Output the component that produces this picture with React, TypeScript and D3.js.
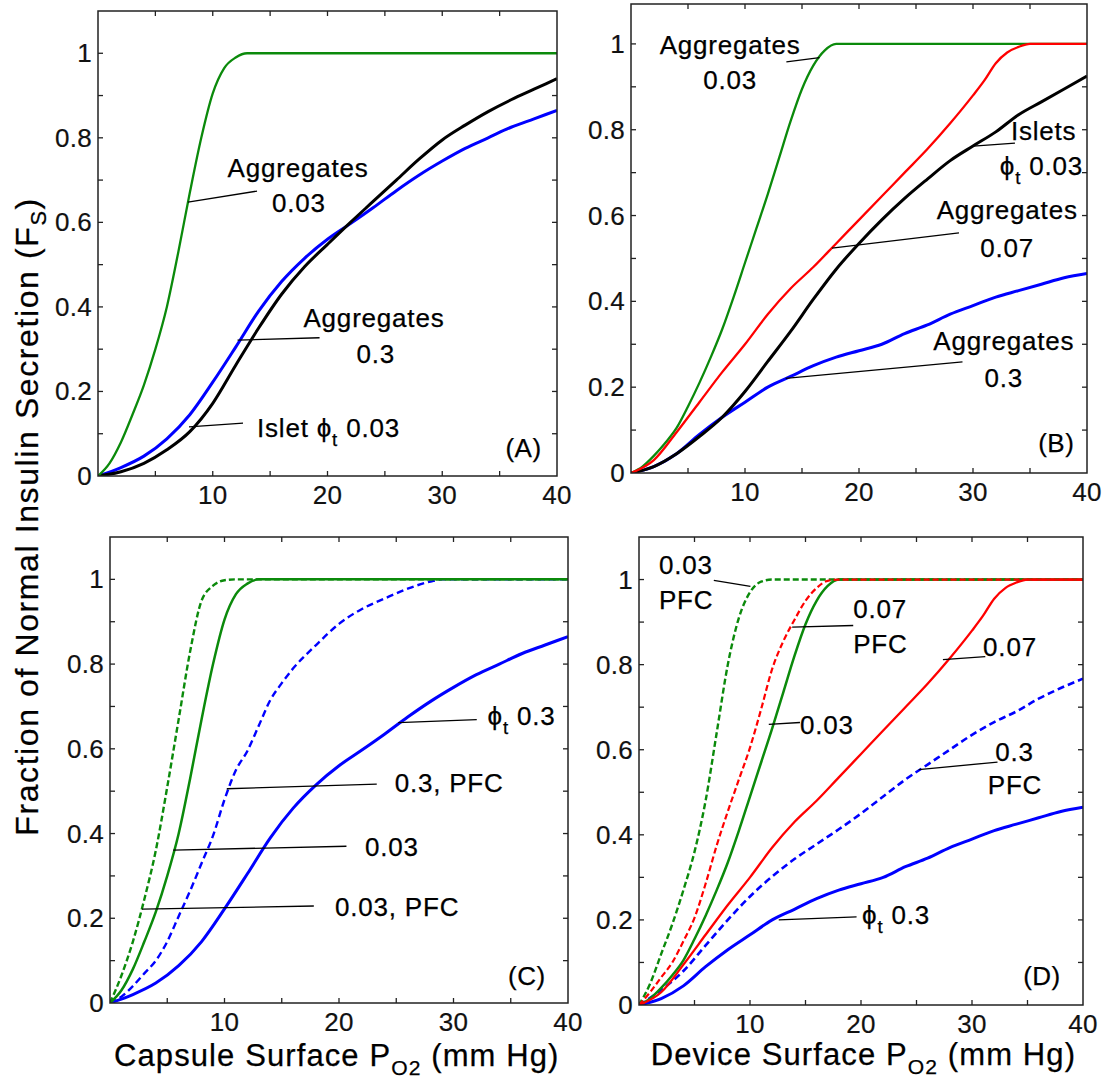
import React from 'react';
import * as d3 from 'd3';

type Pt = [number, number];
type Part = { t: string; sub?: boolean };

const FONT = '"Liberation Sans", Arial, Helvetica, sans-serif';
const GREEN = '#0b8a0b';
const BLUE = '#0000ff';
const RED = '#ff0000';
const BLACK = '#000000';

// ---------- Capsule surface PO2 (panels A, C) ----------
const capsuleAgg003: Pt[] = [[0,0],[1,0.03],[2,0.08],[3,0.145],[4,0.215],[5,0.30],[6,0.40],[7,0.53],[8,0.67],[9,0.80],[10,0.905],[11,0.965],[12,0.99],[13,1],[40,1]];
const capsuleAgg003PFC: Pt[] = [[0,0],[1,0.065],[2,0.145],[3,0.245],[4,0.36],[5,0.51],[6,0.67],[7,0.83],[8,0.95],[9,0.985],[10,0.998],[11,1],[40,1]];
const capsuleAgg03: Pt[] = [[0,0],[2,0.02],[4,0.047],[6,0.088],[8,0.145],[10,0.222],[12,0.305],[14,0.39],[16,0.46],[18,0.515],[20,0.56],[22,0.597],[24,0.635],[26,0.675],[28,0.712],[30,0.745],[32,0.775],[34,0.80],[36,0.825],[38,0.845],[40,0.865]];
const capsuleAgg03PFC: Pt[] = [[0,0],[1,0.015],[2,0.04],[3,0.07],[4,0.10],[5,0.145],[6,0.205],[7,0.265],[8,0.33],[9,0.395],[10,0.48],[11,0.55],[12,0.595],[13,0.655],[14,0.715],[15,0.755],[16,0.79],[18,0.845],[20,0.895],[22,0.93],[24,0.955],[26,0.978],[28,0.995],[29,1],[40,1]];
const capsuleIslet003: Pt[] = [[0,0],[2,0.01],[4,0.03],[6,0.062],[8,0.105],[10,0.172],[12,0.262],[14,0.35],[16,0.43],[18,0.495],[20,0.548],[22,0.60],[24,0.65],[26,0.70],[28,0.75],[30,0.795],[32,0.83],[34,0.862],[36,0.89],[38,0.915],[40,0.94]];

// ---------- Device surface PO2 (panels B, D) ----------
const deviceAgg003: Pt[] = [[0,0],[1,0.015],[2,0.04],[3,0.07],[4,0.105],[5,0.155],[6,0.21],[7,0.27],[8,0.335],[9,0.41],[10,0.49],[11,0.57],[12,0.65],[13,0.735],[14,0.82],[15,0.895],[16,0.95],[17,0.985],[18,1],[40,1]];
const deviceAgg003PFC: Pt[] = [[0,0],[1,0.05],[2,0.12],[3,0.19],[4,0.27],[5,0.36],[6,0.48],[7,0.64],[8,0.80],[9,0.91],[10,0.97],[11,0.995],[12,1],[40,1]];
const deviceAgg007: Pt[] = [[0,0],[2,0.03],[4,0.095],[6,0.165],[8,0.235],[10,0.30],[12,0.37],[14,0.43],[16,0.48],[18,0.535],[20,0.59],[22,0.645],[24,0.70],[26,0.755],[28,0.815],[30,0.88],[31,0.915],[32,0.955],[33,0.98],[34,0.993],[35,1],[40,1]];
const deviceAgg007PFC: Pt[] = [[0,0],[1,0.03],[2,0.065],[3,0.10],[4,0.15],[5,0.205],[6,0.285],[7,0.375],[8,0.455],[9,0.53],[10,0.605],[11,0.695],[12,0.79],[13,0.855],[14,0.905],[15,0.95],[16,0.98],[17,0.997],[18,1],[40,1]];
const deviceAgg03: Pt[] = [[0,0],[2,0.015],[4,0.045],[6,0.09],[8,0.13],[10,0.165],[12,0.20],[14,0.225],[16,0.25],[18,0.27],[20,0.285],[22,0.30],[24,0.325],[26,0.345],[28,0.37],[30,0.39],[32,0.41],[34,0.425],[36,0.44],[38,0.455],[40,0.465]];
const deviceAgg03PFC: Pt[] = [[0,0],[2,0.035],[4,0.08],[6,0.14],[8,0.20],[10,0.255],[12,0.302],[14,0.343],[16,0.378],[18,0.413],[20,0.45],[22,0.49],[24,0.53],[26,0.565],[28,0.60],[30,0.635],[32,0.665],[34,0.69],[36,0.72],[38,0.745],[40,0.767]];
const deviceIslet003: Pt[] = [[0,0],[2,0.015],[4,0.045],[6,0.085],[8,0.13],[10,0.19],[12,0.26],[14,0.33],[16,0.405],[18,0.475],[20,0.535],[22,0.59],[24,0.64],[26,0.685],[28,0.728],[30,0.762],[32,0.795],[34,0.835],[36,0.865],[38,0.895],[40,0.925]];

// ---------- ticks ----------
const xDomain: Pt = [0, 40];
const xTicks = [5, 10, 15, 20, 25, 30, 35];
const xTickLabels = [10, 20, 30, 40];
const yTicks = [0.1, 0.2, 0.3, 0.4, 0.5, 0.6, 0.7, 0.8, 0.9, 1.0];
const yTickLabels = [0, 0.2, 0.4, 0.6, 0.8, 1];

// ---------- titles ----------
const yAxisTitle: Part[] = [{ t: 'Fraction of Normal Insulin Secretion (F' }, { t: 'S', sub: true }, { t: ')' }];
const xTitleCapsule: Part[] = [{ t: 'Capsule Surface P' }, { t: 'O2', sub: true }, { t: ' (mm Hg)' }];
const xTitleDevice: Part[] = [{ t: 'Device Surface P' }, { t: 'O2', sub: true }, { t: ' (mm Hg)' }];

type Series = { data: Pt[]; color: string; width: number; dash?: string };
type NoteText = { at: Pt; anchor: 'start' | 'middle' | 'end'; parts: Part[] };
type Note = { from: Pt; to: Pt; texts: NoteText[] };
type PanelDef = {
  key: string; left: number; right: number; top: number; bottom: number; yMax: number;
  label: string; labelAt: Pt; series: Series[]; notes: Note[];
};

const T = (s: string): Part[] => [{ t: s }];
const PHI = '\u03D5';

const panels: PanelDef[] = [
  {
    key: 'A', left: 98, right: 557, top: 11, bottom: 476, yMax: 1.1,
    label: '(A)', labelAt: [37.08, 0.045],
    series: [
      { data: capsuleAgg03, color: BLUE, width: 3 },
      { data: capsuleIslet003, color: BLACK, width: 3 },
      { data: capsuleAgg003, color: GREEN, width: 2.3 },
    ],
    notes: [
      { from: [7.84, 0.648], to: [13.86, 0.674], texts: [
        { at: [17.43, 0.708], anchor: 'middle', parts: T('Aggregates') },
        { at: [17.5, 0.624], anchor: 'middle', parts: T('0.03') },
      ] },
      { from: [12.16, 0.3215], to: [19.31, 0.327], texts: [
        { at: [24.05, 0.352], anchor: 'middle', parts: T('Aggregates') },
        { at: [24.2, 0.268], anchor: 'middle', parts: T('0.3') },
      ] },
      { from: [7.93, 0.116], to: [12.64, 0.125], texts: [
        { at: [13.86, 0.093], anchor: 'start', parts: [{ t: 'Islet ' + PHI }, { t: 't', sub: true }, { t: ' 0.03' }] },
      ] },
    ],
  },
  {
    key: 'B', left: 631, right: 1087, top: 4, bottom: 473, yMax: 1.093,
    label: '(B)', labelAt: [37.3, 0.05],
    series: [
      { data: deviceAgg03, color: BLUE, width: 3 },
      { data: deviceIslet003, color: BLACK, width: 3 },
      { data: deviceAgg003, color: GREEN, width: 2.3 },
      { data: deviceAgg007, color: RED, width: 2.3 },
    ],
    notes: [
      { from: [16.54, 0.968], to: [13.63, 0.958], texts: [
        { at: [8.7, 0.977], anchor: 'middle', parts: T('Aggregates') },
        { at: [8.7, 0.895], anchor: 'middle', parts: T('0.03') },
      ] },
      { from: [30.03, 0.762], to: [33.68, 0.769], texts: [
        { at: [36.2, 0.775], anchor: 'middle', parts: T('Islets') },
        { at: [36.0, 0.694], anchor: 'middle', parts: [{ t: PHI }, { t: 't', sub: true }, { t: ' 0.03' }] },
      ] },
      { from: [17.63, 0.524], to: [28.77, 0.5595], texts: [
        { at: [33.0, 0.591], anchor: 'middle', parts: T('Aggregates') },
        { at: [33.0, 0.504], anchor: 'middle', parts: T('0.07') },
      ] },
      { from: [13.57, 0.2205], to: [29.08, 0.259], texts: [
        { at: [32.7, 0.286], anchor: 'middle', parts: T('Aggregates') },
        { at: [32.7, 0.201], anchor: 'middle', parts: T('0.3') },
      ] },
    ],
  },
  {
    key: 'C', left: 110, right: 568, top: 537, bottom: 1003, yMax: 1.1,
    label: '(C)', labelAt: [36.4, 0.043],
    series: [
      { data: capsuleAgg03, color: BLUE, width: 3 },
      { data: capsuleAgg03PFC, color: BLUE, width: 2.4, dash: '7,4' },
      { data: capsuleAgg003PFC, color: GREEN, width: 2.4, dash: '6,3' },
      { data: capsuleAgg003, color: GREEN, width: 2.5 },
    ],
    notes: [
      { from: [25.17, 0.662], to: [32.03, 0.669], texts: [
        { at: [32.97, 0.656], anchor: 'start', parts: [{ t: PHI }, { t: 't', sub: true }, { t: ' 0.3' }] },
      ] },
      { from: [10.2, 0.5057], to: [23.3, 0.5165], texts: [
        { at: [24.86, 0.497], anchor: 'start', parts: T('0.3, PFC') },
      ] },
      { from: [5.52, 0.361], to: [20.65, 0.37], texts: [
        { at: [22.27, 0.346], anchor: 'start', parts: T('0.03') },
      ] },
      { from: [2.8, 0.2215], to: [17.8, 0.229], texts: [
        { at: [19.65, 0.205], anchor: 'start', parts: T('0.03, PFC') },
      ] },
    ],
  },
  {
    key: 'D', left: 639, right: 1083, top: 537, bottom: 1005, yMax: 1.1,
    label: '(D)', labelAt: [36.3, 0.047],
    series: [
      { data: deviceAgg03, color: BLUE, width: 3 },
      { data: deviceAgg03PFC, color: BLUE, width: 2.6, dash: '7,4' },
      { data: deviceAgg003PFC, color: GREEN, width: 2.4, dash: '6,3' },
      { data: deviceAgg003, color: GREEN, width: 2.5 },
      { data: deviceAgg007, color: RED, width: 2.3 },
      { data: deviceAgg007PFC, color: RED, width: 2.2, dash: '6,3' },
    ],
    notes: [
      { from: [10.04, 0.984], to: [6.74, 0.998], texts: [
        { at: [1.8, 1.013], anchor: 'start', parts: T('0.03') },
        { at: [1.8, 0.931], anchor: 'start', parts: T('PFC') },
      ] },
      { from: [13.8, 0.888], to: [19.3, 0.892], texts: [
        { at: [19.3, 0.909], anchor: 'start', parts: T('0.07') },
        { at: [19.3, 0.8275], anchor: 'start', parts: T('PFC') },
      ] },
      { from: [11.69, 0.6595], to: [14.5, 0.664], texts: [
        { at: [14.5, 0.638], anchor: 'start', parts: T('0.03') },
      ] },
      { from: [27.38, 0.812], to: [31.2, 0.819], texts: [
        { at: [31.0, 0.821], anchor: 'start', parts: T('0.07') },
      ] },
      { from: [25.2, 0.553], to: [32.3, 0.571], texts: [
        { at: [33.83, 0.573], anchor: 'middle', parts: T('0.3') },
        { at: [33.87, 0.4955], anchor: 'middle', parts: T('PFC') },
      ] },
      { from: [12.59, 0.2], to: [19.6, 0.207], texts: [
        { at: [20.1, 0.19], anchor: 'start', parts: [{ t: PHI }, { t: 't', sub: true }, { t: ' 0.3' }] },
      ] },
    ],
  },
];

function Rich({ x, y, anchor = 'start', parts, size, ls = 0, subScale = 0.7, shift }: {
  x: number; y: number; anchor?: 'start' | 'middle' | 'end'; parts: Part[]; size: number; ls?: number; subScale?: number; shift?: number;
}) {
  const sh = shift ?? Math.round(size * 0.28);
  let inSub = false;
  const nodes = parts.map((p, i) => {
    if (p.sub) {
      const n = <tspan key={i} fontSize={size * subScale} dy={inSub ? 0 : sh}>{p.t}</tspan>;
      inSub = true;
      return n;
    }
    const n = <tspan key={i} dy={inSub ? -sh : 0}>{p.t}</tspan>;
    inSub = false;
    return n;
  });
  return (
    <text x={x} y={y} textAnchor={anchor} fontSize={size} letterSpacing={ls}
      fontFamily={FONT} fill="#000" stroke="#000" strokeWidth={0.25} style={{ whiteSpace: 'pre' }}>
      {nodes}
    </text>
  );
}

function Panel({ p }: { p: PanelDef }) {
  const x = d3.scaleLinear().domain(xDomain).range([p.left, p.right]);
  const y = d3.scaleLinear().domain([0, p.yMax]).range([p.bottom, p.top]);
  const line = d3.line<Pt>().x(d => x(d[0])).y(d => y(d[1])).curve(d3.curveMonotoneX);
  const clipId = `clip-${p.key}`;
  const tl = 5;
  const frameColor = '#222';
  return (
    <g>
      <defs>
        <clipPath id={clipId}>
          <rect x={p.left} y={p.top} width={p.right - p.left} height={p.bottom - p.top} />
        </clipPath>
      </defs>
      <g stroke={frameColor} strokeWidth={1.3}>
        {xTicks.map(v => (
          <g key={'x' + v}>
            <line x1={x(v)} x2={x(v)} y1={p.bottom} y2={p.bottom - tl} />
            <line x1={x(v)} x2={x(v)} y1={p.top} y2={p.top + tl} />
          </g>
        ))}
        {yTicks.map(v => (
          <g key={'y' + v}>
            <line x1={p.left} x2={p.left + tl} y1={y(v)} y2={y(v)} />
            <line x1={p.right} x2={p.right - tl} y1={y(v)} y2={y(v)} />
          </g>
        ))}
      </g>
      <g clipPath={`url(#${clipId})`} fill="none" strokeLinejoin="round">
        {p.series.map((s, i) => (
          <path key={i} d={line(s.data) || ''} stroke={s.color} strokeWidth={s.width}
            strokeDasharray={s.dash} />
        ))}
      </g>
      <rect x={p.left} y={p.top} width={p.right - p.left} height={p.bottom - p.top}
        fill="none" stroke={frameColor} strokeWidth={1.5} />
      <g fontFamily={FONT} fontSize={26} fill="#111" stroke="#111" strokeWidth={0.2}>
        {xTickLabels.map(v => (
          <text key={'xl' + v} x={x(v)} y={p.bottom + 28} textAnchor="middle" letterSpacing={0.3}>{String(v)}</text>
        ))}
        {yTickLabels.map(v => (
          <text key={'yl' + v} x={p.left - 6} y={y(v) + 9} textAnchor="end" letterSpacing={0.3}>{String(v)}</text>
        ))}
      </g>
      {p.notes.map((n, i) => (
        <g key={'n' + i}>
          <line x1={x(n.from[0])} y1={y(n.from[1])} x2={x(n.to[0])} y2={y(n.to[1])}
            stroke="#000" strokeWidth={1.3} />
          {n.texts.map((t, j) => (
            <Rich key={j} x={x(t.at[0])} y={y(t.at[1])} anchor={t.anchor} parts={t.parts} size={26} ls={0.8} shift={9} subScale={0.72} />
          ))}
        </g>
      ))}
      <Rich x={x(p.labelAt[0])} y={y(p.labelAt[1])} anchor="middle" parts={T(p.label)} size={26} ls={0.5} />
    </g>
  );
}

export default function App() {
  return (
    <svg width={1105} height={1078} viewBox="0 0 1105 1078"
      style={{ position: 'absolute', left: 0, top: 0, display: 'block' }}>
      <rect x={0} y={0} width={1105} height={1078} fill="#fff" />
      {panels.map(p => <Panel key={p.key} p={p} />)}
      <g transform="translate(38,516.5) rotate(-90)">
        <Rich x={0} y={0} anchor="middle" parts={yAxisTitle} size={32} ls={1.6} shift={8} subScale={0.68} />
      </g>
      <Rich x={114} y={1066} parts={xTitleCapsule} size={31} ls={1.1} shift={9} subScale={0.68} />
      <Rich x={650.7} y={1065} parts={xTitleDevice} size={31} ls={1.1} shift={9} subScale={0.68} />
    </svg>
  );
}
